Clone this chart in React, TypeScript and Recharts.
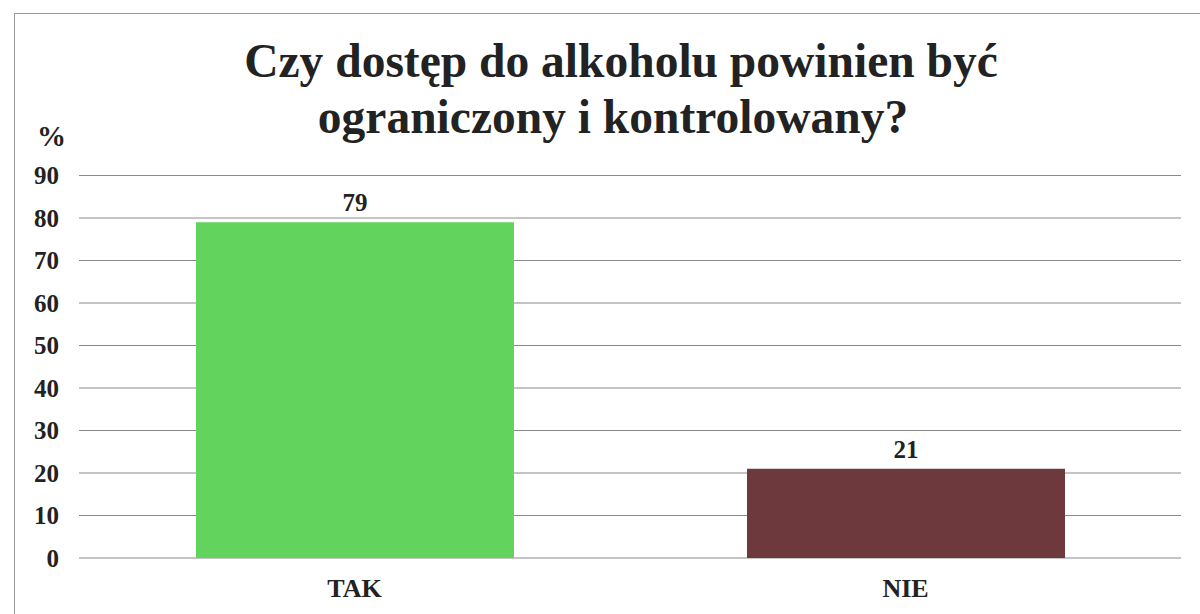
import React from 'react';
import { BarChart, Bar, XAxis, YAxis, CartesianGrid, Cell, LabelList } from 'recharts';

const categories = ['TAK', 'NIE'];
const values = [79, 21];
const colors = ['#62d35d', '#6d393d'];
const yTicks = [0, 10, 20, 30, 40, 50, 60, 70, 80, 90];
const titleLines = ['Czy dostęp do alkoholu powinien być', 'ograniczony i kontrolowany?'];
const unitLabel = '%';

const data = categories.map((c, i) => ({ name: c, value: values[i] }));

const FONT = '"Liberation Serif", "Times New Roman", serif';

export default function App() {
  return (
    <div style={{ position: 'absolute', left: 0, top: 0, width: 1200, height: 614, background: '#fff', overflow: 'hidden', fontFamily: FONT }}>
      <div style={{ position: 'absolute', left: 14, top: 13, width: 1250, height: 700, border: '1px solid #9a9a9a' }} />
      {titleLines.map((t, i) => (
        <div
          key={i}
          style={{
            position: 'absolute',
            left: 0,
            width: i === 0 ? 1242 : 1226,
            top: 35 + i * 56,
            textAlign: 'center',
            fontSize: 47.5,
            fontWeight: 'bold',
            lineHeight: '52px',
            color: '#222',
            whiteSpace: 'nowrap',
          }}
        >
          {t}
        </div>
      ))}
      <div style={{ position: 'absolute', left: 37, top: 120, fontSize: 29, fontWeight: 'bold', color: '#222', lineHeight: '32px' }}>{unitLabel}</div>
      <BarChart
        width={1200}
        height={614}
        data={data}
        margin={{ top: 175.5, right: 19, bottom: 0, left: 0 }}
        barCategoryGap={0}
      >
        <CartesianGrid horizontal vertical={false} stroke="#8a8a8a" strokeWidth={1} />
        <YAxis
          domain={[0, 90]}
          ticks={yTicks}
          width={79}
          axisLine={false}
          tickLine={false}
          tickSize={0}
          tickMargin={20}
          interval={0}
          tick={{ fontSize: 25, fontWeight: 'bold', fill: '#222', fontFamily: FONT }}
        />
        <XAxis
          dataKey="name"
          height={56}
          axisLine={false}
          tickLine={false}
          tickSize={0}
          tickMargin={21}
          tick={{ fontSize: 26, fontWeight: 'bold', fill: '#222', fontFamily: FONT }}
        />
        <Bar dataKey="value" barSize={318} isAnimationActive={false}>
          {data.map((d, i) => (
            <Cell key={d.name} fill={colors[i]} />
          ))}
          <LabelList dataKey="value" position="top" offset={11} style={{ fontSize: 25, fontWeight: 'bold', fill: '#222', fontFamily: FONT }} />
        </Bar>
      </BarChart>
    </div>
  );
}
